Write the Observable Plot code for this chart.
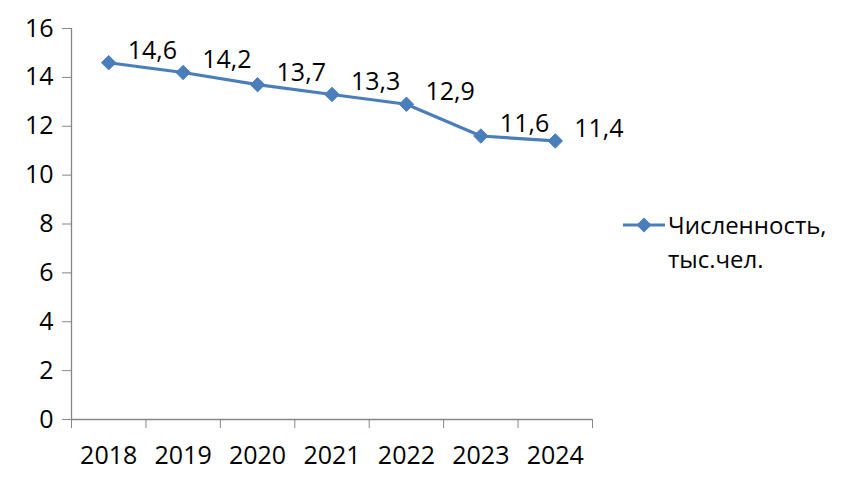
<!DOCTYPE html>
<html>
<head>
<meta charset="utf-8">
<script src="https://cdn.jsdelivr.net/npm/d3@7"></script>
<script src="https://cdn.jsdelivr.net/npm/@observablehq/plot@0.6"></script>
<style>
  html, body { margin: 0; padding: 0; background: #fff; }
  #wrap { position: relative; width: 855px; height: 487px; font-family: "Open Sans", sans-serif; }
  #legend { position: absolute; left: 622px; top: 208px; font-size: 24px; line-height: 34px; color: #000; }
  #legend .row { display: flex; align-items: center; white-space: nowrap; }
  #legend .second { padding-left: 46px; }
</style>
</head>
<body>
<div id="wrap"></div>
<script>
const years = ["2018", "2019", "2020", "2021", "2022", "2023", "2024"];
const values = [14.6, 14.2, 13.7, 13.3, 12.9, 11.6, 11.4];
const labels = ["14,6", "14,2", "13,7", "13,3", "12,9", "11,6", "11,4"];
const yTicks = [0, 2, 4, 6, 8, 10, 12, 14, 16];
const seriesName = ["Численность,", "тыс.чел."];

const color = "#4A7EBB";
const axisColor = "#868686";
const font = "Open Sans, sans-serif";

const data = years.map((y, i) => ({ i: i + 0.5, year: y, value: values[i], label: labels[i] }));
const boundaries = d3.range(years.length + 1);

const chart = Plot.plot({
  width: 855,
  height: 487,
  marginLeft: 71,
  marginRight: 263,
  marginTop: 28,
  marginBottom: 68,
  style: { fontFamily: font, fontSize: "25px", color: "#000", background: "#fff" },
  x: { type: "linear", domain: [0, years.length] },
  y: { domain: [0, 16] },
  marks: [
    Plot.axisY({ ticks: yTicks, tickSize: 9, tickPadding: 9, stroke: axisColor, label: null, fontSize: 25, tickFormat: d => String(d) }),
    Plot.axisX({ ticks: boundaries, tickSize: 9, stroke: axisColor, tickFormat: () => "", label: null }),
    Plot.axisX({ ticks: data.map(d => d.i), tickSize: 0, tickPadding: 27, tickFormat: (d) => years[Math.floor(d)], label: null, fontSize: 25 }),
    Plot.ruleX([0], { stroke: axisColor, strokeWidth: 1.3 }),
    Plot.ruleY([0], { stroke: axisColor, strokeWidth: 1.3 }),
    Plot.line(data, { x: "i", y: "value", stroke: color, strokeWidth: 3.2 }),
    Plot.dot(data, { x: "i", y: "value", symbol: "diamond2", r: 6.5, fill: color, stroke: color, strokeWidth: 1 }),
    Plot.text(data, { x: "i", y: "value", text: "label", textAnchor: "start", dx: 19, dy: -12, fontSize: 25, fill: "#000" })
  ]
});

const wrap = document.getElementById("wrap");
wrap.appendChild(chart);

const legend = document.createElement("div");
legend.id = "legend";
legend.innerHTML = `
  <div class="row">
    <svg width="44" height="20" style="margin-right:2px"><line x1="1" y1="10" x2="43" y2="10" stroke="${color}" stroke-width="3.2"/><path d="M22 2.5 L29.5 10 L22 17.5 L14.5 10 Z" fill="${color}"/></svg>
    <span>${seriesName[0]}</span>
  </div>
  <div class="row second"><span>${seriesName[1]}</span></div>`;
wrap.appendChild(legend);
</script>
</body>
</html>
